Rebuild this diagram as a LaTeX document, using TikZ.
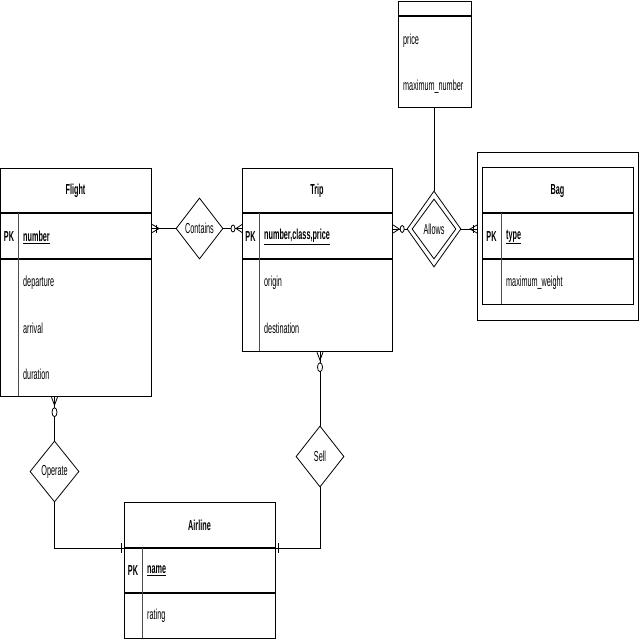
\documentclass[tikz,border=0pt]{standalone}
\usepackage{fontspec}
\setmainfont{Liberation Sans}[FakeStretch=0.5]
\usetikzlibrary{shapes.geometric}
\begin{document}
\begin{tikzpicture}[x=1pt,y=-1pt,
  ent/.style={draw, line width=1.2pt, inner sep=0, anchor=north west},
  sep/.style={line width=1.2pt},
  div/.style={line width=0.6pt, draw=black!70},
  rel/.style={draw, diamond, line width=0.8pt, inner sep=0, font=\fontsize{14.5}{16}\selectfont},
  conn/.style={line width=0.8pt},
  lbl/.style={inner sep=0, font=\fontsize{14.5}{16}\selectfont},
  ttl/.style={inner sep=0, font=\fontsize{14.5}{16}\selectfont\bfseries},
  attr/.style={lbl, anchor=west},
  hzeromany/.pic={\draw[conn] (0,-4)--(6,0)--(0,4); \draw[conn] (0,0)--(6,0); \draw[conn, fill=white] (9,0) ellipse [x radius=2, y radius=3.5];},
  hmandmany/.pic={\draw[conn] (0,-4)--(7,0)--(0,4); \draw[conn] (0,0)--(7,0); \draw[conn] (4,-4)--(4,4);},
  vzeromany/.pic={\draw[conn] (-3,0)--(0,8)--(3,0); \draw[conn] (0,0)--(0,8); \draw[conn, fill=white] (0,15) ellipse [x radius=2.5, y radius=4.5];},
  hone/.pic={\draw[conn] (3,-5)--(3,5);},
]
\useasboundingbox (0,0) rectangle (640,640);

% Flight
\node[ent, minimum width=151pt, minimum height=228pt] (flight) at (0,168) {};
\draw[sep] (0,213) -- (151,213);
\draw[sep] (0,259) -- (151,259);
\draw[div] (18,213) -- (18,396);
\node[ttl] (flightT) at (75.5,191) {Flight};
\node[ttl] (flightPK) at (9,237) {PK};
\node[attr, font=\fontsize{14.5}{16}\selectfont\bfseries] (flightK) at (23,237) {\underline{number}};
\node[attr] (flightA1) at (23,283) {departure};
\node[attr] (flightA2) at (23,328) {arrival};
\node[attr] (flightA3) at (23,374) {duration};

% Trip
\node[ent, minimum width=150pt, minimum height=183pt] (trip) at (242,168) {};
\draw[sep] (242,213) -- (392,213);
\draw[sep] (242,259) -- (392,259);
\draw[div] (259,213) -- (259,351);
\node[ttl] (tripT) at (317,191) {Trip};
\node[ttl] (tripPK) at (250.5,237) {PK};
\node[attr, font=\fontsize{14.5}{16}\selectfont\bfseries] (tripK) at (264,237) {\underline{number,class,price}};
\node[attr] (tripA1) at (264,283) {origin};
\node[attr] (tripA2) at (264,328) {destination};

% Relationship attribute box
\node[ent, minimum width=73pt, minimum height=106pt] (attrbox) at (398,1) {};
\draw[sep] (398,16) -- (471,16);
\node[attr] (attrA1) at (403,41) {price};
\node[attr] (attrA2) at (403,87) {maximum\_number};

% Bag (weak entity)
\node[ent, minimum width=161pt, minimum height=168pt] (bagout) at (477,152) {};
\node[ent, minimum width=151pt, minimum height=137pt] (bag) at (482,167) {};
\draw[sep] (482,213) -- (633,213);
\draw[sep] (482,259) -- (633,259);
\draw[div] (501,213) -- (501,304);
\node[ttl] (bagT) at (557.5,191) {Bag};
\node[ttl] (bagPK) at (491.5,237) {PK};
\node[attr, font=\fontsize{14.5}{16}\selectfont\bfseries] (bagK) at (506,237) {\underline{type}};
\node[attr] (bagA1) at (506,283) {maximum\_weight};

% Airline
\node[ent, minimum width=151pt, minimum height=136pt] (airline) at (124,502) {};
\draw[sep] (124,548) -- (275,548);
\draw[sep] (124,593) -- (275,593);
\draw[div] (142,548) -- (142,638);
\node[ttl] (airlineT) at (199.5,525) {Airline};
\node[ttl] (airlinePK) at (133,571) {PK};
\node[attr, font=\fontsize{14.5}{16}\selectfont\bfseries] (airlineK) at (147,571) {\underline{name}};
\node[attr] (airlineA1) at (147,616) {rating};
\coordinate (airlineL) at (124,548);
\coordinate (airlineR) at (275,548);

% Relationships
\node[rel, minimum width=47pt, minimum height=61pt] (contains) at (199.5,228.5) {Contains};
\node[rel, minimum width=49pt, minimum height=61pt] (operate) at (54.5,471.5) {Operate};
\node[rel, minimum width=48pt, minimum height=61pt] (sell) at (320,456.5) {Sell};
\node[rel, minimum width=54pt, minimum height=76pt] (allows) at (434,229) {Allows};
\node[rel, minimum width=44pt, minimum height=60pt] (allowsIn) at (434,229) {};

% Connectors
\draw[conn] (flight.east |- contains.west) -- (contains.west);
\draw[conn] (contains.east) -- (contains.east -| trip.west);
\draw[conn] (trip.east |- allows.west) -- (allows.west);
\draw[conn] (allows.east) -- (allows.east -| bagout.west);
\draw[conn] (allows.north) -- (allows.north |- attrbox.south);
\draw[conn] (flight.south -| operate.north) -- (operate.north);
\draw[conn] (operate.south) |- (airlineL);
\draw[conn] (trip.south -| sell.north) -- (sell.north);
\draw[conn] (sell.south) |- (airlineR);

% Cardinality markers
\pic at (flight.east |- contains.west) {hmandmany};
\pic[xscale=-1] at (contains.east -| trip.west) {hzeromany};
\pic at (trip.east |- allows.west) {hzeromany};
\pic[xscale=-1] at (allows.east -| bagout.west) {hmandmany};
\pic at (flight.south -| operate.north) {vzeromany};
\pic at (trip.south -| sell.north) {vzeromany};
\pic[xscale=-1] at (airlineL) {hone};
\pic at (airlineR) {hone};
\end{tikzpicture}
\end{document}
